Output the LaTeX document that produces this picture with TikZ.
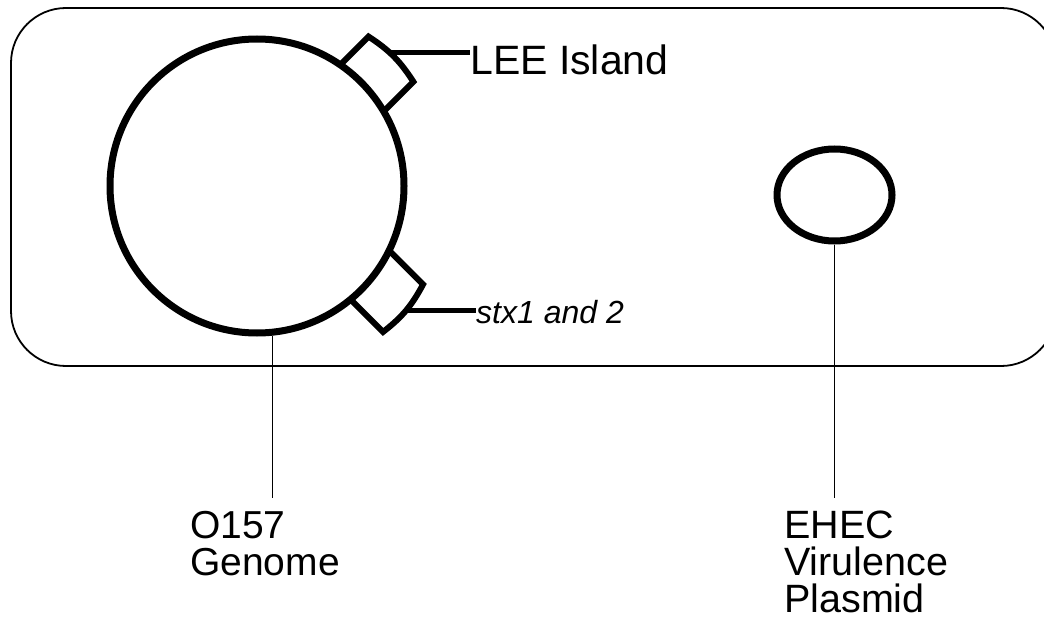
\documentclass[tikz,border=0pt]{standalone}
\usepackage{fontspec}
\setmainfont{Liberation Sans}
\usetikzlibrary{calc,shapes.geometric}

\begin{document}
\begin{tikzpicture}[
    x=1pt, y=1pt,
    dna/.style={draw, line width=7pt, inner sep=0pt},
    island/.style={line width=6pt, line join=miter},
    tag/.style={line width=4.5pt},
    line/.style={line width=1.3pt},
    lbl/.style={inner sep=0pt, font=\fontsize{39}{37}\selectfont, align=left}
    ]

\useasboundingbox (0,0) rectangle (1044,-639);

% cell outline
\draw[line width=1.8pt, rounded corners=55pt] (11,-8) rectangle (1056,-366);

% chromosome and plasmid
\node[dna, circle, minimum size=294pt] (genome) at (257,-186) {};
\node[dna, ellipse, minimum width=115pt, minimum height=92pt] (plasmid) at (834.5,-195) {};

% islands on the chromosome
\coordinate (lee1) at ($(genome.center)+(55.5:147)$);
\coordinate (lee4) at ($(genome.center)+(30.5:147)$);
\draw[island] (lee1) -- ++(45:40) to[bend left=12] coordinate[pos=0.4] (leeEdge) ($(lee4)+(45:42)$) -- (lee4);

\coordinate (stx1) at ($(genome.center)+(-26:147)$);
\coordinate (stx4) at ($(genome.center)+(-50.5:147)$);
\draw[island] (stx1) -- ++(-45:48) to[bend left=12] coordinate[pos=0.5] (stxEdge) ($(stx4)+(-45:46)$) -- (stx4);

% labels
\node[lbl, anchor=base west, font=\fontsize{41}{37}\selectfont] (lee) at (470,-75) {LEE Island};
\node[lbl, anchor=base west, font=\fontsize{32}{37}\selectfont\itshape] (stx) at (476,-323) {stx1 and 2};
\node[lbl, anchor=north west] (o157) at (190,-510.6) {O157\\Genome};
\node[lbl, anchor=north west, font=\fontsize{39.5}{37}\selectfont] (ehec) at (784,-511) {EHEC\\Virulence\\Plasmid};

% leaders
\draw[tag] (leeEdge) -- (leeEdge -| lee.west);
\draw[tag] (stxEdge) -- (stxEdge -| stx.west);
\draw[line, shorten >=13pt] (genome.-84.5) -- (genome.-84.5 |- o157.north);
\draw[line, shorten >=13pt] (plasmid.south) -- (plasmid.south |- ehec.north);

\end{tikzpicture}
\end{document}
